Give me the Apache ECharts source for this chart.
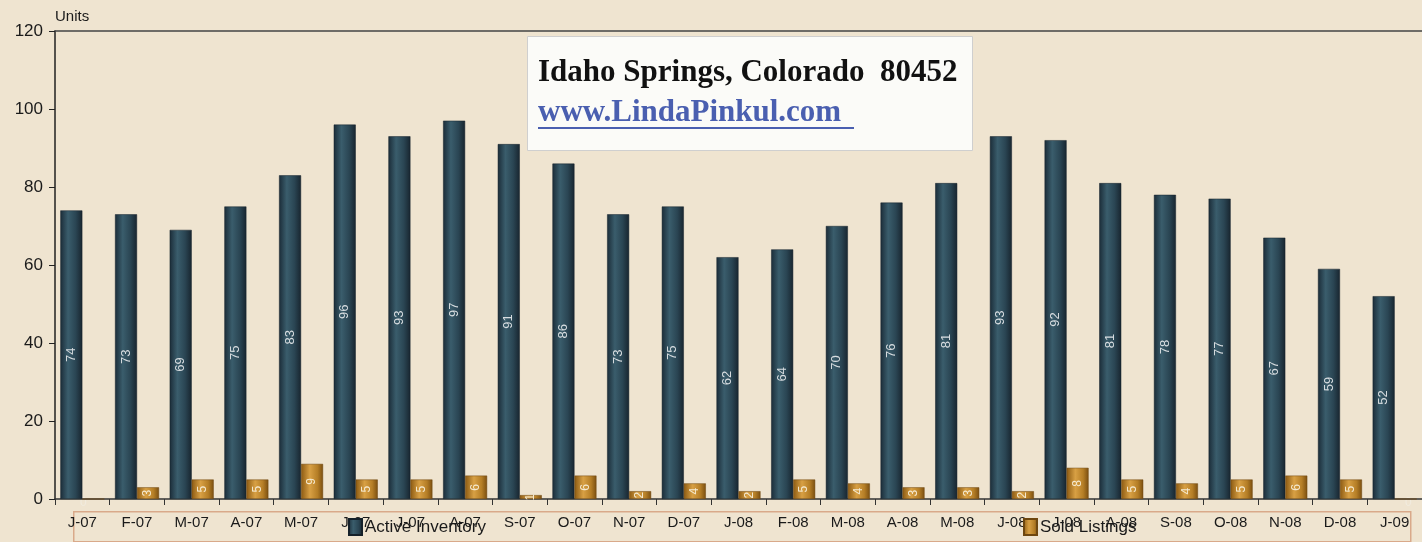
<!DOCTYPE html>
<html><head><meta charset="utf-8">
<script src="https://cdn.jsdelivr.net/npm/echarts@6/dist/echarts.min.js"></script>
<style>html,body{margin:0;padding:0;background:#efe4d0;}#c{width:1422px;height:542px;}</style>
</head><body><div id="c"></div>
<script>
const categories = ["J-07","F-07","M-07","A-07","M-07","J-07","J-07","A-07","S-07","O-07","N-07","D-07","J-08","F-08","M-08","A-08","M-08","J-08","J-08","A-08","S-08","O-08","N-08","D-08","J-09"];
const activeInventory = [74,73,69,75,83,96,93,97,91,86,73,75,62,64,70,76,81,93,92,81,78,77,67,59,52];
const soldListings = [0,3,5,5,9,5,5,6,1,6,2,4,2,5,4,3,3,2,8,5,4,5,6,5,0];
const yTicks = [0,20,40,60,80,100,120];

const chart = echarts.init(document.getElementById('c'));
const activeGrad = new echarts.graphic.LinearGradient(0,0,1,0,[
  {offset:0,color:'#1b2c38'},{offset:0.35,color:'#3a5d6c'},{offset:0.7,color:'#2a4553'},{offset:1,color:'#18252f'}]);
const soldGrad = new echarts.graphic.LinearGradient(0,0,1,0,[
  {offset:0,color:'#8c5a12'},{offset:0.4,color:'#d8a044'},{offset:0.75,color:'#b57e26'},{offset:1,color:'#7a4e10'}]);
const font = 'Liberation Sans, Arial';
chart.setOption({
  backgroundColor:'#efe4d0',
  animation:false,
  grid:{left:55,right:-8,top:31,bottom:43,containLabel:false},
  legend:[
    {data:['Active Inventory'],icon:'rect',left:343,top:513,itemWidth:13,itemHeight:16,itemGap:4,textStyle:{fontSize:17,color:'#1a1a1a',fontFamily:font,padding:[0,0,0,-2]}},
    {data:['Sold Listings'],icon:'rect',left:1018,top:513,itemWidth:13,itemHeight:16,textStyle:{fontSize:17,color:'#1a1a1a',fontFamily:font,padding:[0,0,0,-2]}}
  ],
  xAxis:[
    {type:'category',data:categories,
     axisLine:{lineStyle:{color:'#333',width:1.5}},
     axisTick:{show:true,inside:false,length:6,lineStyle:{color:'#333'}},
     axisLabel:{fontSize:15,color:'#1a1a1a',margin:16,fontFamily:font,interval:0}},
    {type:'category',data:categories,position:'top',
     axisLine:{show:true,lineStyle:{color:'#444',width:1.5}},axisTick:{show:false},axisLabel:{show:false}}
  ],
  yAxis:{type:'value',min:0,max:120,interval:20,
    name:'Units',nameLocation:'end',nameGap:7,nameTextStyle:{fontSize:15,color:'#1a1a1a',align:'left',fontFamily:font},
    axisLine:{show:true,lineStyle:{color:'#222',width:1.5}},
    axisTick:{show:true,length:6,lineStyle:{color:'#222'}},
    splitLine:{show:false},
    axisLabel:{fontSize:17,color:'#1a1a1a',margin:12,fontFamily:font,
      formatter:v=>yTicks.includes(v)?String(v):''}},
  series:[
    {name:'Active Inventory',type:'bar',data:activeInventory,barWidth:22,barGap:'0%',
     itemStyle:{color:activeGrad,borderColor:'#15212a',borderWidth:0.5},
     label:{show:true,position:'inside',rotate:90,color:'#d8dde0',fontSize:13,fontFamily:font}},
    {name:'Sold Listings',type:'bar',data:soldListings,barWidth:22,
     itemStyle:{color:soldGrad,borderColor:'#6e4710',borderWidth:0.5},
     label:{show:true,position:'inside',rotate:90,color:'#f5ead0',fontSize:12,fontFamily:font,
       formatter:p=>p.value===0?'':String(p.value)}}
  ],
  graphic:[
    {type:'rect',left:73,top:511,shape:{width:1337,height:30},style:{fill:'rgba(0,0,0,0)',stroke:'#d9a98a',lineWidth:1.5},z:-1},
    {type:'text',left:80,top:497,style:{text:'0',fill:'#f2eee4',font:'12px Liberation Sans',opacity:0.7}},
    {type:'text',left:1405,top:497,style:{text:'0',fill:'#f2eee4',font:'12px Liberation Sans',opacity:0.7}},
    {type:'rect',left:527,top:36,shape:{width:445,height:114},style:{fill:'#fbfbf8',stroke:'#cfcfcf',lineWidth:1},z:10},
    {type:'text',left:538,top:57,z:11,style:{text:'Idaho Springs, Colorado  80452',fill:'#111',font:'bold 31px "Liberation Serif", "DejaVu Serif", serif'}},
    {type:'text',left:538,top:97,z:11,style:{text:'www.LindaPinkul.com',fill:'#4a5fb0',font:'bold 31px "Liberation Serif", "DejaVu Serif", serif'}},
    {type:'rect',left:538,top:127,z:11,shape:{width:316,height:2},style:{fill:'#4a5fb0'}}
  ]
});
</script></body></html>
